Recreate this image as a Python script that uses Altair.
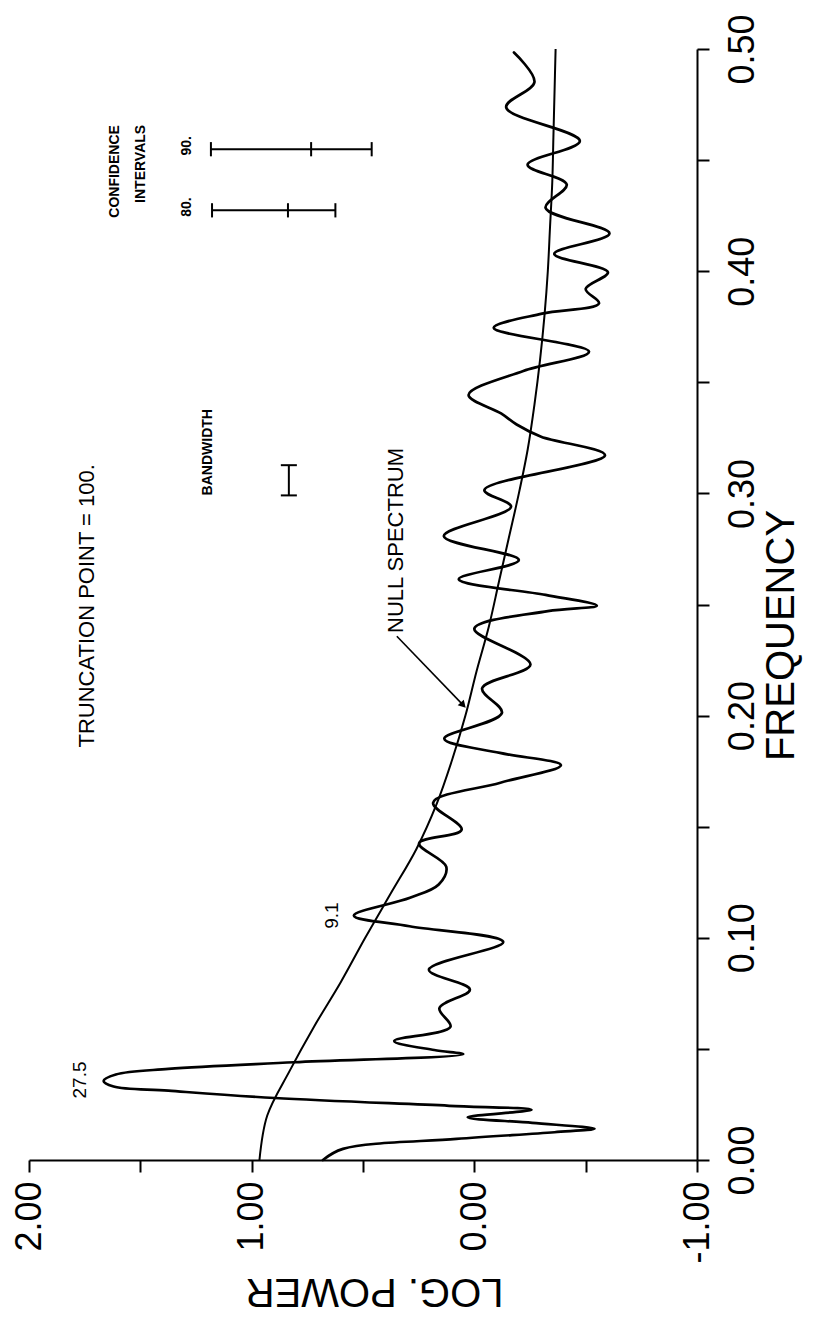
import altair as alt
import pandas as pd

# ---- data read from the (rotated) reference ----
spec_freq = [0.000, 0.005, 0.0095, 0.0125, 0.0141, 0.0167, 0.0192, 0.0226, 0.0244, 0.0279,
             0.0312, 0.0331, 0.0356, 0.0385, 0.041, 0.044, 0.0476, 0.0495, 0.0536, 0.060, 0.0683,
             0.0767, 0.0856, 0.0981, 0.1052, 0.110, 0.118, 0.124, 0.132, 0.1425, 0.1487,
             0.1608, 0.1698, 0.1777, 0.1832, 0.1896, 0.2012, 0.2123, 0.223, 0.2391, 0.247, 0.2495,
             0.2543, 0.2614, 0.270, 0.2808, 0.294, 0.3015, 0.3172, 0.3255, 0.331, 0.336, 0.3443,
             0.3551, 0.3638, 0.3745, 0.3809, 0.3855, 0.392, 0.3995, 0.4078, 0.417, 0.4285,
             0.439, 0.4479, 0.4586, 0.4738, 0.4851, 0.4984]
spec_power = [0.68, 0.59, 0.08, -0.36, -0.54, -0.26, 0.03, -0.257, 0.113, 0.896,
              1.374, 1.62, 1.665, 1.61, 1.374, 0.809, 0.05, 0.18, 0.36, 0.107, 0.157,
              0.02, 0.204, -0.13, 0.291, 0.541, 0.289, 0.16, 0.126, 0.248, 0.057,
              0.185, -0.117, -0.389, -0.115, 0.135, -0.124, -0.035, -0.252, 0.0, -0.33, -0.55,
              -0.32, 0.07, -0.2, 0.137, -0.165, -0.045, -0.587, -0.30, -0.19, -0.12, 0.026,
              -0.22, -0.515, -0.087, -0.304, -0.56, -0.50, -0.60, -0.359, -0.607, -0.32,
              -0.415, -0.239, -0.474, -0.143, -0.27, -0.178]

null_freq = [0.0, 0.02, 0.04, 0.06, 0.08, 0.10, 0.12, 0.14, 0.16, 0.18, 0.20, 0.22, 0.24,
             0.26, 0.28, 0.30, 0.32, 0.34, 0.36, 0.38, 0.40, 0.42, 0.44, 0.46, 0.48, 0.50]
null_power = [0.965, 0.93, 0.83, 0.72, 0.60, 0.49, 0.375, 0.26, 0.17, 0.10, 0.04, -0.01, -0.065,
              -0.11, -0.155, -0.20, -0.24, -0.27, -0.295, -0.315, -0.33, -0.34, -0.35, -0.355,
              -0.36, -0.365]

ci_label = ["80.", "90."]
ci_freq = [0.4274, 0.4549]
ci_low = [0.624, 0.461]
ci_mid = [0.837, 0.733]
ci_high = [1.178, 1.183]
ci_label_power = 1.29

bw_freq = [0.2991, 0.3127]
bw_power = 0.833

arrow_freq = [0.2357, 0.2047]
arrow_power = [0.348, 0.05]

peak_text = ["27.5", "9.1"]
peak_freq = [0.036, 0.110]
peak_power = [1.77, 0.64]

power_ticks = [-1, -0.5, 0, 0.5, 1, 1.5, 2]
freq_ticks = [0.0, 0.05, 0.10, 0.15, 0.20, 0.25, 0.30, 0.35, 0.40, 0.45, 0.50]

FONT = "Liberation Sans"

X_SCALE = alt.Scale(domain=[-1, 2], reverse=True, nice=False, zero=False)
Y_SCALE = alt.Scale(domain=[0, 0.5], nice=False, zero=False)

x_axis = alt.Axis(
    values=power_ticks,
    labelExpr="datum.value % 1 == 0 ? (datum.value < 0 ? '-' : '') + format(abs(datum.value), '.2f') : ''",
    labelAngle=270, labelAlign="right", labelBaseline="middle",
    labelFont=FONT, labelFontSize=36, labelColor="black", labelPadding=9,
    labelFlush=False, labelOverlap=False,
    tickSize=12, tickWidth=2, tickColor="black",
    domainColor="black", domainWidth=2, grid=False,
    title="LOG. POWER", titleFont=FONT, titleFontSize=40, titleFontWeight="normal",
    titleColor="black", titleAngle=180, titleX=345, titleY=130,
    titleAlign="center", titleBaseline="middle",
)
y_axis = alt.Axis(
    orient="right",
    values=freq_ticks,
    labelExpr="round(datum.value * 100) % 10 == 0 ? format(datum.value, '.2f') : ''",
    labelAngle=270, labelAlign="center", labelBaseline="top",
    labelFont=FONT, labelFontSize=36, labelColor="black", labelPadding=16,
    labelFlush=False, labelOverlap=False,
    tickSize=12, tickWidth=2, tickColor="black",
    domainColor="black", domainWidth=2, grid=False,
    title="FREQUENCY", titleFont=FONT, titleFontSize=40, titleFontWeight="normal",
    titleColor="black", titleAngle=270, titleX=84, titleY=586,
    titleAlign="center", titleBaseline="middle",
)


def X(field):
    return alt.X(field, type="quantitative", scale=X_SCALE, axis=x_axis)


def Y(field):
    return alt.Y(field, type="quantitative", scale=Y_SCALE, axis=y_axis)


spec_df = pd.DataFrame({"freq": spec_freq, "power": spec_power, "idx": range(len(spec_freq))})
null_df = pd.DataFrame({"freq": null_freq, "power": null_power, "idx": range(len(null_freq))})

spectrum = alt.Chart(spec_df).mark_line(
    color="black", strokeWidth=2.7, interpolate="catmull-rom", strokeCap="round", strokeJoin="round"
).encode(x=X("power"), y=Y("freq"), order="idx:Q")

null_line = alt.Chart(null_df).mark_line(
    color="black", strokeWidth=2.0, interpolate="catmull-rom"
).encode(x=X("power"), y=Y("freq"), order="idx:Q")

# confidence interval bars
ci_df = pd.DataFrame({"label": ci_label, "freq": ci_freq, "low": ci_low, "mid": ci_mid,
                      "high": ci_high, "lp": [ci_label_power] * 2})
ci_bars = alt.Chart(ci_df).mark_rule(color="black", strokeWidth=2).encode(
    x=X("high"), x2="low", y=Y("freq"))
ci_ticks_df = pd.DataFrame({"freq": ci_freq * 3, "power": ci_low + ci_mid + ci_high})
ci_ticks = alt.Chart(ci_ticks_df).transform_calculate(
    f0="datum.freq - 0.0032", f1="datum.freq + 0.0032"
).mark_rule(color="black", strokeWidth=2).encode(x=X("power"), y=Y("f0"), y2="f1")
ci_text = alt.Chart(ci_df).transform_calculate(fy="datum.freq + 0.0015").mark_text(
    angle=270, font=FONT, fontSize=14, fontWeight="bold", align="center", baseline="middle", color="black"
).encode(x=X("lp"), y=Y("fy"), text="label:N")

# bandwidth bar
bw_df = pd.DataFrame({"f0": [bw_freq[0]], "f1": [bw_freq[1]], "power": [bw_power]})
bw_bar = alt.Chart(bw_df).mark_rule(color="black", strokeWidth=2).encode(x=X("power"), y=Y("f0"), y2="f1")
bw_ends_df = pd.DataFrame({"freq": bw_freq, "power": [bw_power, bw_power]})
bw_ends = alt.Chart(bw_ends_df).transform_calculate(
    p0="datum.power - 0.036", p1="datum.power + 0.036"
).mark_rule(color="black", strokeWidth=2).encode(x=X("p0"), x2="p1", y=Y("freq"))

# text annotations
big_center_df = pd.DataFrame({"t": ["TRUNCATION POINT = 100."], "freq": [0.2494], "power": [1.74]})
big_center = alt.Chart(big_center_df).mark_text(
    angle=270, font=FONT, fontSize=22, align="center", baseline="middle", color="black"
).encode(x=X("power"), y=Y("freq"), text="t:N")

null_lab_df = pd.DataFrame({"t": ["NULL SPECTRUM"], "freq": [0.2372], "power": [0.352]})
null_lab = alt.Chart(null_lab_df).mark_text(
    angle=270, font=FONT, fontSize=22, align="left", baseline="middle", color="black"
).encode(x=X("power"), y=Y("freq"), text="t:N")

peak_df = pd.DataFrame({"t": peak_text, "freq": peak_freq, "power": peak_power})
peaks = alt.Chart(peak_df).mark_text(
    angle=270, font=FONT, fontSize=19, align="center", baseline="middle", color="black"
).encode(x=X("power"), y=Y("freq"), text="t:N")

small_df = pd.DataFrame({"t": ["CONFIDENCE", "INTERVALS"], "freq": [0.4449, 0.4483], "power": [1.615, 1.498]})
small = alt.Chart(small_df).mark_text(
    angle=270, font=FONT, fontSize=14, fontWeight="bold", align="center", baseline="middle", color="black"
).encode(x=X("power"), y=Y("freq"), text="t:N")

bw_lab_df = pd.DataFrame({"t": ["BANDWIDTH"], "freq": [bw_freq[0]], "power": [1.198]})
bw_lab = alt.Chart(bw_lab_df).mark_text(
    angle=270, font=FONT, fontSize=14, fontWeight="bold", align="left", baseline="middle", color="black"
).encode(x=X("power"), y=Y("freq"), text="t:N")

# arrow
arrow_df = pd.DataFrame({"freq": arrow_freq, "power": arrow_power, "idx": [0, 1]})
arrow_line = alt.Chart(arrow_df).mark_line(color="black", strokeWidth=1.6).encode(
    x=X("power"), y=Y("freq"), order="idx:Q")
arrow_head = alt.Chart(arrow_df.iloc[[1]]).mark_point(
    shape="triangle-up", filled=True, size=70, angle=137, color="black", opacity=1
).encode(x=X("power"), y=Y("freq"))

chart = alt.layer(
    spectrum, null_line, ci_bars, ci_ticks, ci_text, bw_bar, bw_ends,
    big_center, null_lab, peaks, small, bw_lab, arrow_line, arrow_head,
).properties(
    width=668, height=1111,
    padding={"left": 21, "top": 41, "right": 108, "bottom": 155},
    autosize=alt.AutoSizeParams(type="none"),
    background="white",
).configure_view(stroke=None)

chart.save("out.html", embed_options={"renderer": "svg", "actions": False})
